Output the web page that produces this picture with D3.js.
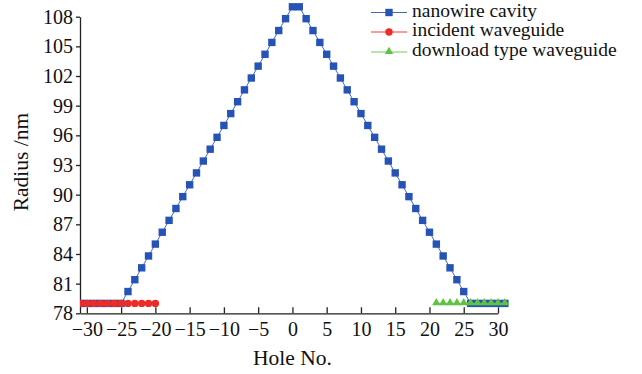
<!DOCTYPE html>
<html>
<head>
<meta charset="utf-8">
<script src="https://cdn.jsdelivr.net/npm/d3@7"></script>
<style>
  html, body { margin: 0; padding: 0; background: #fff; }
  svg { display: block; }
  text { font-family: "Liberation Serif", "Times New Roman", serif; fill: #111; }
</style>
</head>
<body>
<svg id="chart" width="642" height="374"></svg>
<script>
// Hole index for the full photonic-crystal line
const holeNo = d3.range(-31, 32);

// Radius of the nanowire cavity holes (nm), one per hole from -31 to 31
const cavityRadius = [
  79, 79, 79, 79, 79, 79, 79,
  80.2, 81.4, 82.6, 83.8, 85.0, 86.2, 87.4, 88.6, 89.8, 91.0, 92.2, 93.4,
  94.6, 95.8, 97.0, 98.2, 99.4, 100.6, 101.8, 103.0, 104.2, 105.4, 106.6, 107.8,
  109, 109,
  107.8, 106.6, 105.4, 104.2, 103.0, 101.8, 100.6, 99.4, 98.2, 97.0, 95.8, 94.6,
  93.4, 92.2, 91.0, 89.8, 88.6, 87.4, 86.2, 85.0, 83.8, 82.6, 81.4, 80.2,
  79, 79, 79, 79, 79, 79
];

// Incident waveguide holes
const incidentHoles = [-31, -30, -29, -28, -27, -26, -25, -24, -23, -22, -21, -20];
const incidentRadius = [79, 79, 79, 79, 79, 79, 79, 79, 79, 79, 79, 79];

// Download type waveguide holes
const downloadHoles = [21, 22, 23, 24, 25, 26, 27, 28, 29, 30, 31];
const downloadRadius = [79, 79, 79, 79, 79, 79, 79, 79, 79, 79, 79];

// Axis ticks
const xTicks = [-30, -25, -20, -15, -10, -5, 0, 5, 10, 15, 20, 25, 30];
const yTicks = [78, 81, 84, 87, 90, 93, 96, 99, 102, 105, 108];

const seriesNames = ["nanowire cavity", "incident waveguide", "download type waveguide"];

const colors = {
  cavity: "#2654b6", cavityLine: "#4468c0",
  incident: "#ee2b26", incidentLine: "#ee3a35",
  download: "#5ec242", downloadLine: "#6ccc55"
};

const svg = d3.select("#chart");

const x = d3.scaleLinear().domain([-31, 30]).range([80, 498]);
const y = d3.scaleLinear().domain([78, 108]).range([313.3, 16.7]);

// Marks are clipped at the left axis only
svg.append("defs").append("clipPath").attr("id", "plotClip")
  .append("rect").attr("x", x(-31)).attr("y", 0).attr("width", 642 - x(-31)).attr("height", 374);

// Axes
const xAxis = svg.append("g")
  .attr("transform", `translate(0,${y(78)})`)
  .call(d3.axisBottom(x).tickValues(xTicks).tickSizeInner(-6).tickSizeOuter(0).tickPadding(9));
const yAxis = svg.append("g")
  .attr("transform", `translate(${x(-31)},0)`)
  .call(d3.axisLeft(y).tickValues(yTicks).tickSizeInner(4).tickSizeOuter(0).tickPadding(3));

[xAxis, yAxis].forEach(g => {
  g.attr("font-family", null);
  g.selectAll("path.domain").attr("stroke", "#222").attr("stroke-width", 1.3);
  g.selectAll(".tick line").attr("stroke", "#222").attr("stroke-width", 1.3);
  g.selectAll(".tick text")
    .style("font-family", '"Liberation Serif", "Times New Roman", serif')
    .style("font-size", "20px").attr("fill", "#111");
});

// Axis titles
svg.append("text")
  .attr("x", x(0)).attr("y", 365)
  .attr("text-anchor", "middle")
  .style("font-size", "21.5px")
  .text("Hole No.");
svg.append("text")
  .attr("transform", `translate(28,${y(93.3)}) rotate(-90)`)
  .attr("text-anchor", "middle")
  .style("font-size", "21.5px")
  .text("Radius /nm");

// Marker helpers
const SQ = 7.4;
function drawSquares(g, xs, ys, color) {
  g.selectAll("rect").data(xs).join("rect")
    .attr("x", (d) => x(d) - SQ / 2)
    .attr("y", (d, i) => y(ys[i]) - SQ / 2)
    .attr("width", SQ).attr("height", SQ)
    .attr("fill", color);
}
function drawCircles(g, xs, ys, color) {
  g.selectAll("circle").data(xs).join("circle")
    .attr("cx", (d) => x(d))
    .attr("cy", (d, i) => y(ys[i]))
    .attr("r", 3.7)
    .attr("fill", color);
}
const tri = d3.symbol().type(d3.symbolTriangle).size(30);
function drawTriangles(g, xs, ys, color) {
  g.selectAll("path").data(xs).join("path")
    .attr("transform", (d, i) => `translate(${x(d)},${y(ys[i]) - 0.5})`)
    .attr("d", tri())
    .attr("fill", color);
}

const line = d3.line().x(d => x(d[0])).y(d => y(d[1]));
const plot = svg.append("g").attr("clip-path", "url(#plotClip)");

// Nanowire cavity
const gCav = plot.append("g");
gCav.append("path")
  .datum(holeNo.map((h, i) => [h, cavityRadius[i]]))
  .attr("d", line).attr("fill", "none")
  .attr("stroke", colors.cavityLine).attr("stroke-width", 1);
drawSquares(gCav.append("g"), holeNo, cavityRadius, colors.cavity);

// Incident waveguide
const gInc = plot.append("g");
gInc.append("path")
  .datum(incidentHoles.map((h, i) => [h, incidentRadius[i]]))
  .attr("d", line).attr("fill", "none")
  .attr("stroke", colors.incidentLine).attr("stroke-width", 1);
drawCircles(gInc.append("g"), incidentHoles, incidentRadius, colors.incident);

// Download type waveguide
const gDl = plot.append("g");
gDl.append("path")
  .datum(downloadHoles.map((h, i) => [h, downloadRadius[i]]))
  .attr("d", line).attr("fill", "none")
  .attr("stroke", colors.downloadLine).attr("stroke-width", 1);
drawTriangles(gDl.append("g"), downloadHoles, downloadRadius, colors.download);

// Legend
const legend = svg.append("g");
const legendRows = [
  { name: seriesNames[0], line: colors.cavityLine, fill: colors.cavity, shape: "square" },
  { name: seriesNames[1], line: colors.incidentLine, fill: colors.incident, shape: "circle" },
  { name: seriesNames[2], line: colors.downloadLine, fill: colors.download, shape: "triangle" }
];
const rowY = [12.5, 32, 52];
legendRows.forEach((r, i) => {
  const g = legend.append("g").attr("transform", `translate(0,${rowY[i]})`);
  g.append("line").attr("x1", 371).attr("x2", 407).attr("y1", 0).attr("y2", 0)
    .attr("stroke", r.line).attr("stroke-width", 1);
  if (r.shape === "square") {
    g.append("rect").attr("x", 389 - SQ / 2).attr("y", -SQ / 2)
      .attr("width", SQ).attr("height", SQ).attr("fill", r.fill);
  } else if (r.shape === "circle") {
    g.append("circle").attr("cx", 389).attr("cy", 0).attr("r", 3.7).attr("fill", r.fill);
  } else {
    g.append("path").attr("transform", "translate(389,-0.5)").attr("d", tri()).attr("fill", r.fill);
  }
  g.append("text").attr("x", 412).attr("y", 4)
    .style("font-size", "19.5px")
    .text(r.name);
});
</script>
</body>
</html>
